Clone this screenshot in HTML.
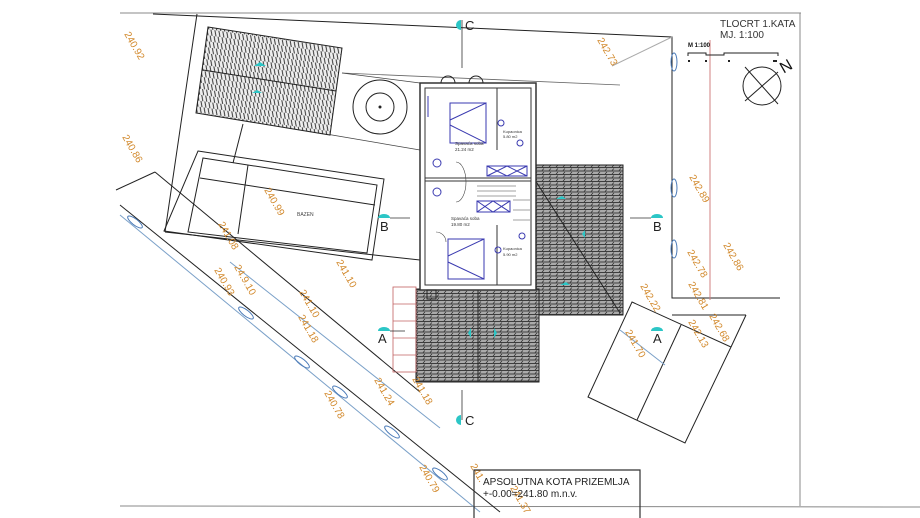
<!DOCTYPE html>
<html><head><meta charset="utf-8"><style>
html,body{margin:0;padding:0;background:#fff;}
svg{display:block;font-family:"Liberation Sans",sans-serif;}
.o{fill:#d2892c;font-size:10px;}
.k{stroke:#222;fill:none;stroke-width:1;}
.b{stroke:#3a3ab0;fill:none;stroke-width:1;}
.ob{fill:none;stroke:#4a7ab8;stroke-width:1;}
</style></head><body>
<svg width="920" height="518" viewBox="0 0 920 518" xmlns="http://www.w3.org/2000/svg">
<defs>
<pattern id="h1" width="4" height="6" patternUnits="userSpaceOnUse" patternTransform="rotate(8)">
<rect width="4" height="6" fill="#eee"/><line x1="1" y1="0" x2="3" y2="6" stroke="#222" stroke-width="0.9"/></pattern>
<pattern id="h2" width="7" height="3.5" patternUnits="userSpaceOnUse">
<rect width="7" height="3.5" fill="#aaa"/><line x1="0" y1="3" x2="7" y2="3" stroke="#222" stroke-width="0.8"/><line x1="3" y1="2.5" x2="5" y2="0.5" stroke="#222" stroke-width="0.6"/></pattern>
</defs>
<line x1="120" y1="13" x2="801" y2="13" stroke="#888"/>
<line x1="800" y1="13" x2="800" y2="506" stroke="#888"/>
<line x1="120" y1="506" x2="920" y2="507" stroke="#888"/>
<polyline class="k" points="153,14 672,37 672,298 780,298"/>
<line class="k" x1="197" y1="14" x2="165" y2="232" stroke-width="0.8"/>
<line class="k" x1="165" y1="232" x2="420" y2="260" stroke-width="0.8"/>
<line x1="612" y1="66" x2="672" y2="37" stroke="#aaa"/>
<line x1="342" y1="73" x2="620" y2="85" stroke="#666" stroke-width="0.8"/>
<line x1="197" y1="112" x2="420" y2="150" stroke="#444" stroke-width="0.8"/>
<line x1="342" y1="73" x2="420" y2="83" stroke="#444" stroke-width="0.8"/>
<polygon points="208,27 342,48 330,135 196,113" fill="url(#h1)" stroke="#222"/>
<line x1="203" y1="70" x2="336" y2="91" stroke="#222"/>
<circle cx="380" cy="107" r="27" class="k"/><circle cx="380" cy="107" r="14" class="k"/><circle cx="380" cy="107" r="1.5" fill="#222"/>
<polygon class="k" points="198,151 384,179 372,260 164,231"/>
<polygon class="k" points="203,158 377,185 367,253 188,232"/>
<line class="k" x1="200" y1="178" x2="375" y2="205" stroke-width="0.7"/>
<line class="k" x1="248" y1="165" x2="238" y2="234" stroke-width="0.7"/>
<line class="k" x1="243" y1="124" x2="233" y2="163" stroke-width="0.7"/>
<text x="297" y="216" font-size="5" fill="#444">BAZEN</text>
<line class="k" x1="155" y1="172" x2="420" y2="392"/>
<line class="k" x1="116" y1="190" x2="155" y2="172"/>
<line class="k" x1="120" y1="205" x2="500" y2="512"/>
<line x1="120" y1="215" x2="480" y2="512" stroke="#7aa0c8"/>
<line x1="230" y1="262" x2="440" y2="428" stroke="#7aa0c8"/>
<g class="ob">
<ellipse cx="135" cy="222" rx="9" ry="3" transform="rotate(38 135 222)"/>
<ellipse cx="246" cy="313" rx="9" ry="3" transform="rotate(38 246 313)"/>
<ellipse cx="302" cy="362" rx="9" ry="3" transform="rotate(38 302 362)"/>
<ellipse cx="340" cy="392" rx="9" ry="3" transform="rotate(38 340 392)"/>
<ellipse cx="392" cy="432" rx="9" ry="3" transform="rotate(38 392 432)"/>
<ellipse cx="440" cy="474" rx="9" ry="3" transform="rotate(38 440 474)"/>
<ellipse cx="674" cy="62" rx="3" ry="9"/>
<ellipse cx="674" cy="188" rx="3" ry="9"/>
<ellipse cx="674" cy="249" rx="3" ry="9"/>
</g>
<line x1="710" y1="40" x2="710" y2="300" stroke="#d08080"/>
<polygon points="535,165 623,165 623,315 535,315" fill="url(#h2)" stroke="#222"/>
<line x1="535" y1="180" x2="620" y2="313" stroke="#222"/>
<rect x="416" y="289" width="123" height="93" fill="url(#h2)" stroke="#222"/>
<line x1="478" y1="289" x2="478" y2="382" stroke="#222"/>
<g stroke="#c06060" fill="none" stroke-width="0.8">
<rect x="393" y="287" width="23" height="85"/>
<line x1="393" y1="304" x2="416" y2="304"/><line x1="393" y1="321" x2="416" y2="321"/><line x1="393" y1="338" x2="416" y2="338"/><line x1="393" y1="355" x2="416" y2="355"/>
</g>
<rect x="420" y="83" width="116" height="207" fill="#fff" stroke="#333" stroke-width="1.5"/>
<rect x="425" y="88" width="106" height="197" fill="none" stroke="#333"/>
<line x1="425" y1="178" x2="531" y2="178" stroke="#333"/>
<line x1="425" y1="181" x2="531" y2="181" stroke="#333"/>
<line x1="497" y1="88" x2="497" y2="150" stroke="#333"/>
<line x1="497" y1="225" x2="497" y2="285" stroke="#333"/>
<g class="b">
<rect x="450" y="103" width="36" height="40"/><polyline points="450,120 486,103 486,143 450,125"/>
<rect x="448" y="239" width="36" height="40"/><polyline points="448,256 484,239 484,279 448,262"/>
<rect x="487" y="166" width="40" height="10"/><path d="M487,166 L507,176 L527,166 M487,176 L507,166 L527,176"/>
<rect x="477" y="201" width="33" height="11"/><path d="M477,201 L493,212 L510,201 M477,212 L493,201 L510,212"/>
<circle cx="437" cy="163" r="4"/><circle cx="437" cy="192" r="4"/>
<line x1="428" y1="96" x2="428" y2="117"/>
<circle cx="501" cy="123" r="3"/><circle cx="520" cy="143" r="3"/><circle cx="498" cy="250" r="3"/><circle cx="522" cy="236" r="3"/>
</g>
<g stroke="#444" fill="none" stroke-width="0.6">
<line x1="477" y1="186" x2="516" y2="186"/><line x1="477" y1="191" x2="516" y2="191"/><line x1="477" y1="196" x2="516" y2="196"/>
<line x1="513" y1="200" x2="530" y2="200"/><line x1="513" y1="210" x2="530" y2="210"/><line x1="513" y1="220" x2="530" y2="220"/>
<path d="M456,162 A10,20 0 0 1 456,202"/>
<path d="M436,232 a10,10 0 0 1 10,10"/>
</g>
<text x="455" y="145" font-size="4.5" fill="#333">Spavaća soba</text>
<text x="455" y="151" font-size="4.5" fill="#333">21.24 m2</text>
<text x="451" y="220" font-size="4.5" fill="#333">Spavaća soba</text>
<text x="451" y="226" font-size="4.5" fill="#333">19.80 m2</text>
<text x="503" y="133" font-size="4" fill="#333">Kupaonica</text>
<text x="503" y="138" font-size="4" fill="#333">5.80 m2</text>
<text x="503" y="250" font-size="4" fill="#333">Kupaonica</text>
<text x="503" y="256" font-size="4" fill="#333">5.90 m2</text>
<path d="M441,83 a7,7 0 0 1 14,0 M469,83 a7,7 0 0 1 14,0" class="k"/>
<rect x="427" y="290" width="9" height="9" class="k"/>
<polygon class="k" points="632,302 731,347 685,443 588,397"/>
<line class="k" x1="681" y1="325" x2="637" y2="420"/>
<line class="k" x1="731" y1="347" x2="746" y2="315"/>
<line class="k" x1="672" y1="315" x2="746" y2="315"/>
<line x1="620" y1="330" x2="665" y2="365" stroke="#7aa0c8"/>
<g fill="#2cc6c6">
<path d="M456,25 a5,5 0 0 1 5,-5 v10 a5,5 0 0 1 -5,-5z"/>
<path d="M456,420 a5,5 0 0 1 5,-5 v10 a5,5 0 0 1 -5,-5z"/>
<path d="M378,218 a6,4 0 0 1 12,0z"/><path d="M651,218 a6,4 0 0 1 12,0z"/>
<path d="M378,331 a6,4 0 0 1 12,0z"/><path d="M651,331 a6,4 0 0 1 12,0z"/>
<path d="M254,66 l6,-4 l6,4z"/><path d="M252,93 l5,-3 l5,3z"/>
<path d="M556,199 l6,-3 l4,3z"/><path d="M560,285 l6,-3 l4,3z"/>
<path d="M468,333 l3,-5 v10z"/><path d="M497,333 l-3,-5 v10z"/>
<path d="M582,234 l3,-4 v8z"/>
</g>
<g stroke="#333" stroke-width="0.8">
<line x1="462" y1="20" x2="462" y2="68"/><line x1="462" y1="390" x2="462" y2="420"/>
<line x1="390" y1="218" x2="410" y2="218"/><line x1="630" y1="218" x2="651" y2="218"/>
<line x1="390" y1="331" x2="405" y2="331"/>
</g>
<g font-size="13" fill="#222">
<text x="465" y="30">C</text><text x="465" y="425">C</text>
<text x="380" y="231">B</text><text x="653" y="231">B</text>
<text x="378" y="343">A</text><text x="653" y="343">A</text>
</g>
<g class="o">
<text transform="translate(124,34) rotate(60)">240.92</text>
<text transform="translate(122,137) rotate(60)">240.86</text>
<text transform="translate(264,190) rotate(60)">240.99</text>
<text transform="translate(218,224) rotate(60)">241.08</text>
<text transform="translate(234,267) rotate(60)">24.9.10</text>
<text transform="translate(214,270) rotate(60)">240.93</text>
<text transform="translate(336,262) rotate(60)">241.10</text>
<text transform="translate(299,292) rotate(60)">241.10</text>
<text transform="translate(298,317) rotate(60)">241.18</text>
<text transform="translate(374,380) rotate(60)">241.24</text>
<text transform="translate(412,379) rotate(60)">241.18</text>
<text transform="translate(324,393) rotate(60)">240.78</text>
<text transform="translate(419,467) rotate(60)">240.79</text>
<text transform="translate(470,466) rotate(60)">241.</text>
<text transform="translate(510,488) rotate(60)">241.37</text>
<text transform="translate(597,40) rotate(60)">242.73</text>
<text transform="translate(689,177) rotate(60)">242.89</text>
<text transform="translate(687,252) rotate(60)">242.78</text>
<text transform="translate(723,245) rotate(60)">242.86</text>
<text transform="translate(688,284) rotate(60)">242.81</text>
<text transform="translate(640,286) rotate(60)">242.22</text>
<text transform="translate(688,322) rotate(60)">242.13</text>
<text transform="translate(709,316) rotate(60)">242.68</text>
<text transform="translate(625,332) rotate(60)">241.70</text>
</g>
<text x="720" y="27" font-size="10" fill="#333">TLOCRT 1.KATA</text>
<text x="720" y="38" font-size="10" fill="#333">MJ. 1:100</text>
<text x="688" y="47" font-size="6" font-weight="bold" fill="#111">M 1:100</text>
<polyline points="688,56 688,53 706,53 706,55 724,55 724,53 778,53 778,56" fill="none" stroke="#222"/>
<g fill="#222"><rect x="688" y="60" width="2" height="2"/><rect x="705" y="60" width="2" height="2"/><rect x="728" y="60" width="2" height="2"/><rect x="773" y="60" width="4" height="2"/></g>
<circle cx="762" cy="86" r="19" class="k"/>
<line class="k" x1="745" y1="67" x2="778" y2="104"/><line class="k" x1="745" y1="101" x2="778" y2="72" stroke-width="1.5"/>
<text x="780" y="72" font-size="16" fill="#111" transform="rotate(-30 785 66)">N</text>
<polyline points="474,518 474,470 640,470 640,518" fill="none" stroke="#333" stroke-width="1.2"/>
<text x="483" y="485" font-size="10" fill="#222">APSOLUTNA KOTA PRIZEMLJA</text>
<text x="483" y="497" font-size="10" fill="#222">+-0.00=241.80 m.n.v.</text>
</svg>
</body></html>
